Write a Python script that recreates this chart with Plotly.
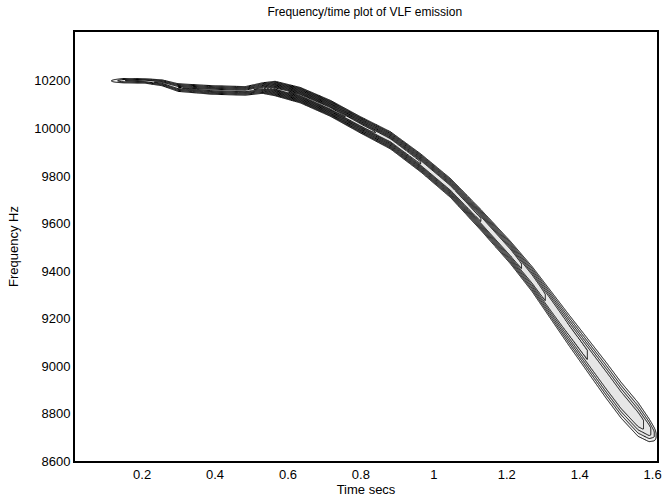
import numpy as np
import plotly.graph_objects as go

# ridge of the emission
ridge_time = [0.107, 0.15, 0.208, 0.255, 0.299, 0.392, 0.483, 0.530, 0.565, 0.634, 0.716,
              0.799, 0.881, 0.964, 1.046, 1.129, 1.211, 1.27, 1.37, 1.472, 1.513, 1.56,
              1.59, 1.605, 1.612]
ridge_freq = [10200, 10201, 10200, 10192, 10172, 10162, 10158, 10170, 10168, 10140, 10085,
              10015, 9950, 9855, 9749, 9615, 9476, 9365, 9152, 8941, 8857, 8775,
              8730, 8712, 8705]
# half width of the band (Hz), peak level and flat-top share along the ridge
ridge_width = [8, 11, 11, 14, 18, 20, 20, 24, 32, 34, 35, 36, 38, 40, 42, 46, 50, 56, 70,
               82, 82, 78, 55, 35, 20]
ridge_level = [0, 2.5, 3, 4, 4.5, 5, 5, 6, 10, 11, 11, 10, 9, 8.5, 8, 7.5, 7, 6, 4.6, 4.4,
               4.3, 4, 3, 1.5, 0]
ridge_flat = [0.1, 0.1, 0.1, 0.05, 0.05, 0.05, 0.05, 0.05, 0.03, 0.03, 0.05, 0.08, 0.12,
              0.15, 0.18, 0.2, 0.22, 0.25, 0.3, 0.3, 0.3, 0.3, 0.3, 0.3, 0.3]

time_grid = np.linspace(0.0, 1.65, 560)
freq_grid = np.linspace(8550, 10450, 760)

# build the intensity table from the ridge arrays
F = freq_grid[:, None]
fc = np.interp(time_grid, ridge_time, ridge_freq)[None, :]
wc = np.interp(time_grid, ridge_time, ridge_width)[None, :]
ac = np.interp(time_grid, ridge_time, ridge_level, left=0, right=0)[None, :]
pc = np.interp(time_grid, ridge_time, ridge_flat)[None, :]
d = np.abs(F - fc) / wc
z = ac * np.clip((1 - d) / (1 - pc), 0, 1)

fig = go.Figure(
    go.Contour(
        x=time_grid,
        y=freq_grid,
        z=z,
        contours=dict(start=0.5, end=15, size=1, coloring="fill"),
        colorscale=[[0, "white"], [0.03, "white"], [0.04, "#e6e6e6"], [1, "#e6e6e6"]],
        zmin=0,
        zmax=15,
        line=dict(color="black", width=1),
        showscale=False,
        hoverinfo="skip",
    )
)

fig.update_layout(
    width=662,
    height=498,
    margin=dict(l=75, r=5, t=32, b=37),
    paper_bgcolor="white",
    plot_bgcolor="white",
    font=dict(family="Liberation Sans, Arial, sans-serif", size=13, color="black"),
    title=dict(
        text="Frequency/time plot of VLF emission",
        x=0.551,
        xanchor="center",
        y=1 - 12 / 498,
        yanchor="middle",
        font=dict(size=12),
    ),
    xaxis=dict(
        range=[0.016, 1.612],
        tickvals=[0.2, 0.4, 0.6, 0.8, 1.0, 1.2, 1.4, 1.6],
        ticktext=["0.2", "0.4", "0.6", "0.8", "1", "1.2", "1.4", "1.6"],
        ticklabeloverflow="allow",
        showgrid=False,
        zeroline=False,
        showline=True,
        mirror=True,
        linecolor="black",
        linewidth=2,
        ticks="",
        automargin=False,
        title=dict(text="Time secs", standoff=0, font=dict(size=13)),
    ),
    yaxis=dict(
        range=[8600, 10406],
        tickvals=[8600, 8800, 9000, 9200, 9400, 9600, 9800, 10000, 10200],
        tickformat="d",
        showgrid=False,
        zeroline=False,
        showline=True,
        mirror=True,
        linecolor="black",
        linewidth=2,
        ticks="",
        automargin=False,
        title=dict(text="Frequency Hz", standoff=13, font=dict(size=13)),
    ),
)

fig.write_html(
    "out.html",
    config={"displayModeBar": False},
    post_script="document.body.style.margin = '0';",
)
